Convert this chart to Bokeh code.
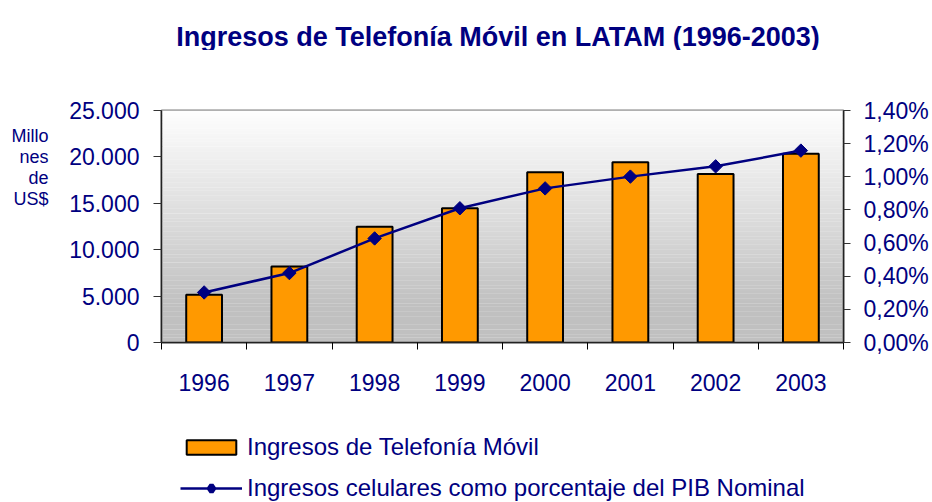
import numpy as np
from bokeh.plotting import figure
from bokeh.layouts import column
from bokeh.models import (Range1d, LinearAxis, FixedTicker, Legend, LegendItem, Label)
from bokeh.embed import file_html
from bokeh.resources import INLINE

# ---- data ----
years = ["1996", "1997", "1998", "1999", "2000", "2001", "2002", "2003"]
ingresos = [5150, 8200, 12480, 14460, 18340, 19420, 18170, 20330]        # millones US$
pct_pib = [0.302, 0.419, 0.628, 0.810, 0.930, 1.001, 1.063, 1.158]        # % del PIB
left_ticks = [0, 5000, 10000, 15000, 20000, 25000]
left_tick_labels = ["0", "5.000", "10.000", "15.000", "20.000", "25.000"]
right_ticks = [0.0, 0.2, 0.4, 0.6, 0.8, 1.0, 1.2, 1.4]
right_tick_labels = ["0,00%", "0,20%", "0,40%", "0,60%", "0,80%", "1,00%", "1,20%", "1,40%"]
title_text = "Ingresos de Telefonía Móvil en LATAM (1996-2003)"
ylabel_lines = ["Millo", "nes", "de", "US$"]
legend_labels = ["Ingresos de Telefonía Móvil", "Ingresos celulares como porcentaje del PIB Nominal"]

NAVY = "#000080"
ORANGE = "#FF9900"
FONT = "Liberation Sans"

W, H = 932, 502
HT = 50            # title strip
H1 = 410 - HT      # chart
H2 = H - HT - H1   # legend strip
FL, FR = 161, 843
FT, FB = 110 - HT, 342 - HT
FH = FB - FT

# ---- title strip ----
t = figure(width=W, height=HT, output_backend="svg", toolbar_location=None,
           x_range=Range1d(0, 1), y_range=Range1d(0, 1),
           min_border_left=FL, min_border_right=W - FR, min_border_top=0, min_border_bottom=0)
t.axis.visible = False
t.grid.visible = False
t.outline_line_color = None
t.add_layout(Label(x=497.5 - FL, y=HT - 36, x_units="screen", y_units="screen",
                   text=title_text, text_align="center", text_baseline="alphabetic",
                   text_font=FONT, text_font_style="bold", text_font_size="27px",
                   text_color=NAVY))

# ---- chart ----
p = figure(width=W, height=H1, output_backend="svg", toolbar_location=None,
           x_range=Range1d(0, len(years)), y_range=Range1d(0, 25000),
           min_border_left=FL, min_border_right=W - FR,
           min_border_top=FT, min_border_bottom=H1 - FB)
p.extra_y_ranges = {"pct": Range1d(0, 1.4), "lab": Range1d(0, FH)}
p.xgrid.visible = False
p.ygrid.visible = False
p.outline_line_color = "#808080"
p.outline_line_width = 2
p.background_fill_color = "white"
p.border_fill_color = "white"

# gradient background (decoration)
n = 90
edges = np.linspace(0, 25000, n + 1)
g0 = 4000.0
cols = []
for i in range(n):
    mid = (edges[i] + edges[i + 1]) / 2
    tt = min(max((mid - g0) / (25000 - g0), 0.0), 1.0)
    v = int(round(192 + (254 - 192) * tt))
    cols.append("#%02x%02x%02x" % (v, v, v))
step = edges[1] - edges[0]
p.quad(left=0, right=len(years), bottom=edges[:-1], top=edges[:-1] + step * 1.08,
       fill_color=cols, line_color=None)

xs = [i + 0.5 for i in range(len(years))]
bar_style = dict(fill_color=ORANGE, line_color="black", line_width=2)
line_style = dict(line_color=NAVY, line_width=2.5)
p.vbar(x=xs, top=ingresos, width=0.42, **bar_style)
p.line(xs, pct_pib, y_range_name="pct", **line_style)
p.scatter(xs, pct_pib, y_range_name="pct", marker="square", angle=np.pi / 4,
          size=9.5, fill_color=NAVY, line_color=NAVY)

# x axis
xa = p.xaxis[0]
xa.ticker = FixedTicker(ticks=xs, minor_ticks=list(range(len(years) + 1)))
xa.major_label_overrides = {x: y for x, y in zip(xs, years)}
xa.major_tick_in = 0
xa.major_tick_out = 0
xa.minor_tick_in = 0
xa.minor_tick_out = 7
xa.minor_tick_line_color = "black"
xa.axis_line_color = "#222222"
xa.axis_line_width = 1.5
xa.major_label_text_font = FONT
xa.major_label_text_font_size = "23px"
xa.major_label_text_color = NAVY
xa.major_label_standoff = 24

# left axis
ya = p.yaxis[0]
ya.ticker = FixedTicker(ticks=left_ticks, minor_ticks=[])
ya.major_label_overrides = {t_: s for t_, s in zip(left_ticks, left_tick_labels)}
ya.major_tick_in = 0
ya.major_tick_out = 8
ya.major_tick_line_color = "#333333"
ya.axis_line_color = "#222222"
ya.axis_line_width = 1.5
ya.major_label_text_font = FONT
ya.major_label_text_font_size = "23px"
ya.major_label_text_color = NAVY
ya.major_label_standoff = 14

# left unit label, drawn as a second (outer) left axis with one tick per text line
line_pos = [FH - 25, FH - 46, FH - 67, FH - 88]   # px above frame bottom
la = LinearAxis(y_range_name="lab")
la.ticker = FixedTicker(ticks=line_pos, minor_ticks=[])
la.major_label_overrides = {t_: s for t_, s in zip(line_pos, ylabel_lines)}
la.major_tick_in = 0
la.major_tick_out = 0
la.axis_line_color = None
la.major_tick_line_color = None
la.major_label_text_font = FONT
la.major_label_text_font_size = "18px"
la.major_label_text_color = NAVY
la.major_label_standoff = 18
p.add_layout(la, "left")

# right axis
ra = LinearAxis(y_range_name="pct")
ra.ticker = FixedTicker(ticks=right_ticks, minor_ticks=[])
ra.major_label_overrides = {t_: s for t_, s in zip(right_ticks, right_tick_labels)}
ra.major_tick_in = 0
ra.major_tick_out = 7
ra.major_tick_line_color = "#333333"
ra.axis_line_color = "#222222"
ra.axis_line_width = 1.5
ra.major_label_text_font = FONT
ra.major_label_text_font_size = "23px"
ra.major_label_text_color = NAVY
ra.major_label_standoff = 13
p.add_layout(ra, "right")

# ---- legend strip (same series as hidden renderers, only their legend is shown) ----
q = figure(width=W, height=H2, output_backend="svg", toolbar_location=None,
           x_range=Range1d(0, len(years)), y_range=Range1d(0, 25000),
           min_border_left=FL, min_border_right=W - FR, min_border_top=0, min_border_bottom=0)
q.extra_y_ranges = {"pct": Range1d(0, 1.4)}
q.axis.visible = False
q.grid.visible = False
q.outline_line_color = None
lb = q.vbar(x=xs, top=ingresos, width=0.42, visible=False, **bar_style)
ll = q.line(xs, pct_pib, y_range_name="pct", visible=False, **line_style)
lm = q.scatter(xs, pct_pib, y_range_name="pct", marker="diamond", size=15,
               fill_color=NAVY, line_color=NAVY, line_width=4.5, visible=False)
legend = Legend(items=[LegendItem(label=legend_labels[0], renderers=[lb]),
                       LegendItem(label=legend_labels[1], renderers=[ll, lm])],
                location=(180 - FL, 0), orientation="vertical",
                glyph_width=62, glyph_height=18, label_height=28,
                label_text_font=FONT, label_text_font_size="24px",
                label_text_color=NAVY, spacing=13, padding=0, margin=0,
                label_standoff=5, border_line_color=None,
                background_fill_alpha=0, click_policy="none")
q.add_layout(legend)

open("out.html", "w").write(file_html(column(t, p, q, spacing=0), INLINE))
